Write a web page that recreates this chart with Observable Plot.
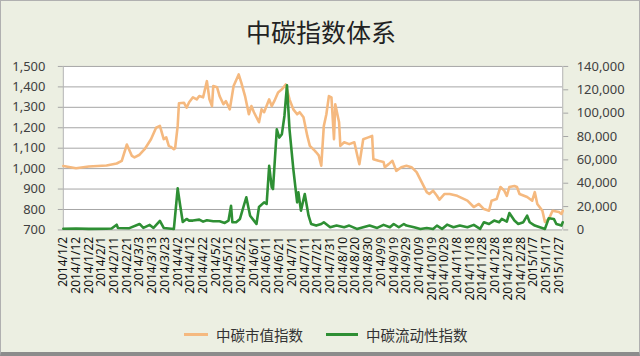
<!DOCTYPE html>
<html>
<head>
<meta charset="utf-8">
<script src="https://cdn.jsdelivr.net/npm/d3@7"></script>
<script src="https://cdn.jsdelivr.net/npm/@observablehq/plot@0.6"></script>
<style>
  html, body { margin: 0; padding: 0; background: #ecefe2; }
  #chart { position: relative; width: 640px; height: 356px; box-sizing: border-box;
           background: #ecefe2; border: 1px solid #b0b0b0; border-bottom: 4px solid #8c8c8c;
           font-family: "Noto Sans", "Noto Sans CJK SC", sans-serif; overflow: hidden; }
  #title { position: absolute; left: 0; top: 12px; width: 640px; text-align: center;
           font-family: "Noto Sans CJK SC", sans-serif; font-size: 25px; color: #222; line-height: 36px; }
  #plot { position: absolute; left: -1px; top: 49px; }
  #legend { position: absolute; top: 321px; left: 0; width: 640px; height: 24px;
            font-family: "Noto Sans CJK SC", sans-serif; font-size: 14.5px; color: #333; }
  .item { position: absolute; top: 0; display: flex; align-items: center; height: 24px; }
  .swatch { display: inline-block; height: 3px; margin-right: 8px; }
</style>
</head>
<body>
<div id="chart">
  <div id="title">中碳指数体系</div>
  <div id="plot"></div>
  <div id="legend"></div>
</div>
<script>
// ---- Data ----
const seriesNames = ["中碳市值指数", "中碳流动性指数"];
const seriesColors = ["#f5b97f", "#2e8f34"];

// 中碳市值指数 (left axis)
const marketIndex = [
  ["2014-01-02",1013],["2014-01-12",1002],["2014-01-22",1010],["2014-02-05",1015],["2014-02-13",1025],
  ["2014-02-17",1038],["2014-02-21",1118],["2014-02-25",1062],["2014-02-27",1055],["2014-03-03",1068],
  ["2014-03-07",1095],["2014-03-12",1144],["2014-03-16",1200],["2014-03-19",1209],["2014-03-22",1144],
  ["2014-03-24",1153],["2014-03-26",1111],["2014-03-28",1105],["2014-03-30",1095],["2014-03-31",1100],
  ["2014-04-02",1209],["2014-04-03",1320],["2014-04-07",1322],["2014-04-09",1298],["2014-04-11",1325],
  ["2014-04-14",1349],["2014-04-17",1339],["2014-04-19",1355],["2014-04-22",1349],["2014-04-25",1428],
  ["2014-04-27",1339],["2014-04-29",1306],["2014-04-30",1404],["2014-05-03",1398],["2014-05-05",1355],
  ["2014-05-08",1315],["2014-05-10",1330],["2014-05-13",1290],["2014-05-16",1404],["2014-05-20",1461],
  ["2014-05-22",1422],["2014-05-25",1355],["2014-05-28",1266],["2014-05-30",1306],["2014-06-01",1276],
  ["2014-06-05",1227],["2014-06-07",1290],["2014-06-09",1276],["2014-06-13",1339],["2014-06-15",1306],
  ["2014-06-17",1330],["2014-06-20",1373],["2014-06-23",1388],["2014-06-26",1412],["2014-06-29",1339],
  ["2014-07-02",1290],["2014-07-05",1266],["2014-07-07",1276],["2014-07-10",1251],["2014-07-13",1160],
  ["2014-07-15",1111],["2014-07-19",1087],["2014-07-20",1080],["2014-07-22",1065],["2014-07-24",1014],
  ["2014-07-26",1209],["2014-07-28",1266],["2014-07-30",1355],["2014-08-01",1349],["2014-08-03",1144],
  ["2014-08-04",1315],["2014-08-07",1227],["2014-08-08",1111],["2014-08-11",1129],["2014-08-15",1120],
  ["2014-08-19",1129],["2014-08-22",1046],["2014-08-23",1022],["2014-08-26",1144],["2014-08-30",1153],
  ["2014-09-02",1160],["2014-09-03",1046],["2014-09-07",1038],["2014-09-11",1032],["2014-09-12",1007],
  ["2014-09-15",1022],["2014-09-18",1038],["2014-09-21",989],["2014-09-25",1007],["2014-09-29",1014],
  ["2014-10-03",1007],["2014-10-07",983],["2014-10-11",934],["2014-10-15",885],["2014-10-17",876],
  ["2014-10-20",892],["2014-10-23",867],["2014-10-25",848],["2014-10-29",876],["2014-11-02",876],
  ["2014-11-08",867],["2014-11-16",843],["2014-11-21",812],["2014-11-25",827],["2014-11-29",802],
  ["2014-12-03",794],["2014-12-05",843],["2014-12-09",851],["2014-12-12",910],["2014-12-15",892],
  ["2014-12-17",867],["2014-12-19",910],["2014-12-23",915],["2014-12-25",910],["2014-12-27",876],
  ["2015-01-02",861],["2015-01-06",843],["2015-01-08",885],["2015-01-10",827],["2015-01-14",794],
  ["2015-01-16",739],["2015-01-19",753],["2015-01-22",794],["2015-01-27",788],["2015-01-29",778],
  ["2015-01-30",794]
];

// 中碳流动性指数 (right axis)
const liquidityIndex = [
  ["2014-01-02",1000],["2014-01-12",1200],["2014-01-22",900],["2014-02-05",1000],["2014-02-09",1200],
  ["2014-02-13",4500],["2014-02-14",1700],["2014-02-23",1500],["2014-03-03",5100],["2014-03-06",1700],
  ["2014-03-11",4300],["2014-03-14",1700],["2014-03-19",7700],["2014-03-22",1700],["2014-03-30",850],
  ["2014-04-02",35600],["2014-04-04",20700],["2014-04-06",6800],["2014-04-09",9400],["2014-04-11",8000],
  ["2014-04-14",8000],["2014-04-19",8800],["2014-04-22",7100],["2014-04-25",8300],["2014-04-30",7400],
  ["2014-05-05",7400],["2014-05-09",6000],["2014-05-12",8000],["2014-05-14",20700],["2014-05-15",6600],
  ["2014-05-18",6600],["2014-05-21",9400],["2014-05-24",20700],["2014-05-26",27900],["2014-05-29",12200],
  ["2014-06-01",8000],["2014-06-03",5100],["2014-06-05",19600],["2014-06-09",23600],["2014-06-11",22200],
  ["2014-06-13",54900],["2014-06-15",36500],["2014-06-16",35000],["2014-06-19",86200],["2014-06-21",79100],
  ["2014-06-23",82000],["2014-06-25",97600],["2014-06-27",123800],["2014-06-29",86200],["2014-07-02",52100],
  ["2014-07-05",23600],["2014-07-06",32200],["2014-07-08",16500],["2014-07-11",30700],["2014-07-14",12200],
  ["2014-07-16",5100],["2014-07-20",3700],["2014-07-24",5100],["2014-07-26",6600],["2014-07-31",2300],
  ["2014-08-05",3700],["2014-08-11",2300],["2014-08-15",3700],["2014-08-21",850],["2014-08-26",2300],
  ["2014-08-31",3700],["2014-09-06",1700],["2014-09-11",4300],["2014-09-16",2300],["2014-09-19",5100],
  ["2014-09-23",2300],["2014-09-27",5100],["2014-09-29",3700],["2014-10-05",2300],["2014-10-10",850],
  ["2014-10-15",1700],["2014-10-20",850],["2014-10-23",3700],["2014-10-27",850],["2014-10-31",4500],
  ["2014-11-05",2300],["2014-11-10",3700],["2014-11-16",2300],["2014-11-21",4300],["2014-11-26",850],
  ["2014-11-29",6600],["2014-12-03",5100],["2014-12-07",8000],["2014-12-11",6600],["2014-12-13",9400],
  ["2014-12-17",7100],["2014-12-19",14500],["2014-12-23",8000],["2014-12-26",5100],["2014-12-30",6600],
  ["2015-01-02",12200],["2015-01-04",6600],["2015-01-08",3700],["2015-01-12",2300],["2015-01-16",850],
  ["2015-01-19",10000],["2015-01-23",9400],["2015-01-25",5100],["2015-01-29",3700],["2015-01-30",6600]
];

const leftTicks = [700, 800, 900, 1000, 1100, 1200, 1300, 1400, 1500];
const rightTicks = [0, 20000, 40000, 60000, 80000, 100000, 120000, 140000];
const xTickLabels = [
  "2014/1/2","2014/1/12","2014/1/22","2014/2/1","2014/2/11","2014/2/21","2014/3/3","2014/3/13",
  "2014/3/23","2014/4/2","2014/4/12","2014/4/22","2014/5/2","2014/5/12","2014/5/22","2014/6/1",
  "2014/6/11","2014/6/21","2014/7/1","2014/7/11","2014/7/21","2014/7/31","2014/8/10","2014/8/20",
  "2014/8/30","2014/9/9","2014/9/19","2014/9/29","2014/10/9","2014/10/19","2014/10/29","2014/11/8",
  "2014/11/18","2014/11/28","2014/12/8","2014/12/18","2014/12/28","2015/1/7","2015/1/17","2015/1/27"
];
const xDomain = ["2014-01-02", "2015-01-30"];

// ---- Build ----
const parseLabel = s => { const [y, m, d] = s.split("/").map(Number); return new Date(Date.UTC(y, m - 1, d)); };
const xTicks = xTickLabels.map(parseLabel);
const labelByTime = new Map(xTicks.map((d, i) => [+d, xTickLabels[i]]));

const L0 = 700, L1 = 1500, R1 = 140000;
const toLeft = v => L0 + v / R1 * (L1 - L0);
const fromLeft = y => (y - L0) / (L1 - L0) * R1;

const market = marketIndex.map(([d, v]) => ({date: new Date(d), value: v}));
const liquidity = liquidityIndex.map(([d, v]) => ({date: new Date(d), value: v, y: toLeft(v)}));

const fmt = d3.format(",");

const chart = Plot.plot({
  width: 641,
  height: 266,
  marginTop: 16,
  marginBottom: 86,
  marginLeft: 63,
  marginRight: 77,
  style: {background: "transparent", fontFamily: "'Noto Sans', 'Noto Sans CJK SC', sans-serif", fontSize: "13px", color: "#404040"},
  x: {type: "utc", domain: xDomain.map(d => new Date(d))},
  y: {domain: [L0, L1]},
  marks: [
    Plot.frame({fill: "white", stroke: null}),
    Plot.gridY(leftTicks.slice(1), {stroke: "#a6a6a6", strokeOpacity: 1}),
    Plot.ruleY([L0], {stroke: "#a6a6a6"}),
    Plot.ruleX(xDomain.map(d => new Date(d)), {stroke: "#b4b4b4"}),
    Plot.axisY(leftTicks, {anchor: "left", tickSize: 5, tickPadding: 13, stroke: "#a6a6a6", fill: "#404040", tickFormat: fmt, label: null, fontSize: 13}),
    Plot.axisY(rightTicks.map(toLeft), {anchor: "right", tickSize: 5, tickPadding: 9, stroke: "#a6a6a6", fill: "#404040",
      tickFormat: d => fmt(Math.round(fromLeft(d))), label: null, fontSize: 13}),
    Plot.axisX(xTicks, {anchor: "bottom", tickSize: 0, tickPadding: 7, tickRotate: -90, fill: "#111",
      tickFormat: d => labelByTime.get(+d), label: null, fontSize: 12}),
    Plot.line(market, {x: "date", y: "value", stroke: seriesColors[0], strokeWidth: 2.6}),
    Plot.line(liquidity, {x: "date", y: "y", stroke: seriesColors[1], strokeWidth: 2.6})
  ]
});
document.getElementById("plot").appendChild(chart);

// Legend
const legend = document.getElementById("legend");
const legendPos = [{left: 183, w: 24}, {left: 325, w: 32}];
seriesNames.forEach((name, i) => {
  const item = document.createElement("div");
  item.className = "item";
  item.style.left = legendPos[i].left + "px";
  const sw = document.createElement("span");
  sw.className = "swatch";
  sw.style.width = legendPos[i].w + "px";
  sw.style.background = seriesColors[i];
  item.appendChild(sw);
  item.appendChild(document.createTextNode(name));
  legend.appendChild(item);
});
</script>
</body>
</html>
